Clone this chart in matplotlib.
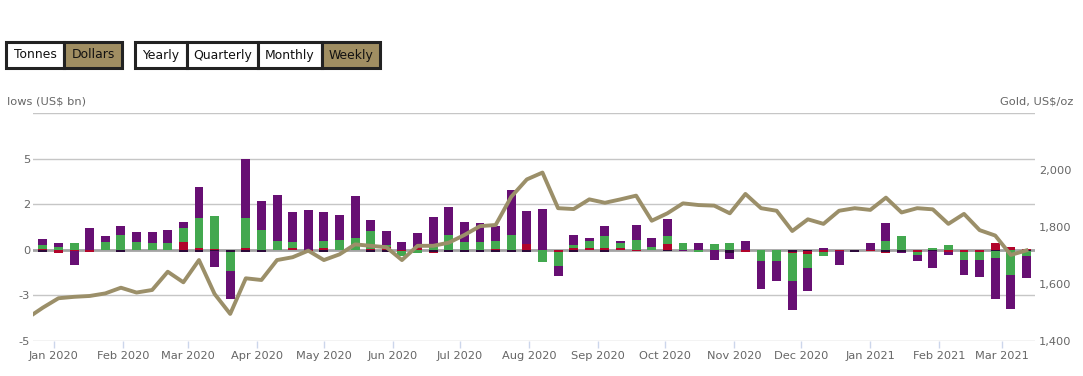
import matplotlib
matplotlib.use("Agg")
import matplotlib.pyplot as plt
import matplotlib.dates as mdates
from matplotlib.patches import Rectangle
from matplotlib.ticker import FixedLocator
import pandas as pd

W, H = 1083, 376

# weekly flows (US$ bn), weeks ending Friday
weeks = pd.date_range("2019-12-27", periods=64, freq="W-FRI")
north_america = [0.33, 0.2, -0.73, 1.2, 0.33, 0.49, 0.55, 0.6, 0.71, 0.33, 1.7, -0.88, -1.55, 3.24, 1.6, 2.53,
                 1.65, 2.2, 1.6, 1.37, 2.3, 0.6, 0.73, 0.44, 0.82, 1.6, 1.54, 1.1, 1.04, 0.82, 2.47, 1.8,
                 2.25, -0.55, 0.55, 0.16, 0.55, 0.11, 0.82, 0.49, 0.93, -0.05, 0.37, -0.55, -0.33, 0.49, -1.54, -1.1,
                 -1.6, -1.26, 0.08, -0.77, 0, 0.38, 0.99, -0.05, -0.33, -0.93, -0.18, -0.82, -0.93, -2.25, -1.86, -1.2]
europe = [0.22, 0.17, 0.38, 0, 0.44, 0.82, 0.44, 0.38, 0.38, 0.77, 1.65, 1.81, -1.05, 1.65, 1.1, 0.5,
          0.33, 0, 0.38, 0.55, 0.66, 0.99, 0.15, -0.27, -0.2, 0.2, 0.82, 0.44, 0.44, 0.44, 0.82, 0,
          -0.66, -0.77, 0.16, 0.38, 0.66, 0.27, 0.55, 0.16, 0.44, 0.4, -0.1, 0.3, 0.38, 0, -0.6, -0.6,
          -1.54, -0.77, -0.22, 0, 0, 0, 0.5, 0.77, -0.17, 0.12, 0.27, -0.44, -0.44, -0.4, -1.4, -0.3]
asia = [0.05, -0.18, -0.09, -0.1, 0, 0, 0, 0, 0, 0.44, 0.1, 0.04, 0, 0.1, 0, 0,
        0.1, -0.08, 0.1, 0, 0, 0.05, 0.13, -0.08, 0.08, -0.1, 0, 0, 0, 0.05, 0, 0.33,
        0, -0.1, 0.1, 0.08, 0.1, 0.08, -0.05, 0, 0.3, 0, 0, 0, -0.05, -0.1, 0, 0,
        -0.05, -0.16, -0.1, -0.05, 0, -0.08, -0.05, 0, -0.1, 0, -0.1, -0.1, -0.12, 0.4, 0.16, 0.05]
other = [-0.1, 0, 0, 0, 0, -0.1, 0, 0, 0, -0.1, -0.1, -0.05, -0.12, -0.1, -0.1, 0,
         0, 0, -0.1, 0, 0, -0.1, -0.1, 0, 0, -0.1, -0.1, -0.1, -0.1, -0.1, -0.1, -0.1,
         0, 0, -0.1, 0, -0.1, 0, 0, 0, -0.05, 0, 0, 0, -0.15, 0, 0, 0,
         -0.1, -0.05, 0, 0, -0.1, 0, -0.1, -0.1, 0, -0.06, 0, 0, 0, -0.05, 0, -0.05]

# gold price, one extra week before the first bar
gold_weeks = pd.date_range("2019-12-20", periods=65, freq="W-FRI")
gold = [1480, 1517, 1550, 1555, 1558, 1567, 1587, 1570, 1579, 1643, 1606, 1684, 1565, 1495, 1620, 1614,
        1684, 1694, 1717, 1684, 1704, 1739, 1734, 1729, 1684, 1734, 1734, 1745, 1772, 1803, 1807, 1906,
        1967, 1991, 1866, 1863, 1897, 1885, 1897, 1910, 1822, 1848, 1883, 1877, 1875, 1848, 1916, 1866,
        1857, 1786, 1827, 1811, 1857, 1866, 1860, 1903, 1851, 1866, 1862, 1811, 1846, 1789, 1770, 1702, 1718]

left_ticks = [5, 2.5, 0, -2.5, -5]
left_labels = ["5", "2", "0", "-3", "-5"]
right_ticks = [1400, 1600, 1800, 2000]
right_labels = ["1,400", "1,600", "1,800", "2,000"]

unit_buttons = ["Tonnes", "Dollars"]
period_buttons = ["Yearly", "Quarterly", "Monthly", "Weekly"]

colors = {"other": "#2b0a3a", "asia": "#b1042a", "europe": "#43a84f", "na": "#670f73"}
GOLD = "#9b8f69"
TXT = "#666666"
FONT = "DejaVu Sans"


def fx(px):
    return px / W


def fy(py):
    return 1 - py / H


fig = plt.figure(figsize=(W / 100, H / 100), dpi=100)
fig.patch.set_facecolor("white")

ax = fig.add_axes([fx(33), fy(341), fx(1035) - fx(33), fy(113) - fy(341)])
ax2 = ax.twinx()

x = mdates.date2num(weeks)
pos = [0.0] * len(x)
neg = [0.0] * len(x)
for key, series in [("other", other), ("asia", asia), ("europe", europe), ("na", north_america)]:
    bottoms = []
    heights = []
    for i, v in enumerate(series):
        if v >= 0:
            bottoms.append(pos[i])
            pos[i] += v
        else:
            bottoms.append(neg[i])
            neg[i] += v
        heights.append(v)
    ax.bar(x, heights, bottom=bottoms, width=4.0, color=colors[key], zorder=3, linewidth=0)

for g in [7.5, 5, 2.5, -2.5, -5]:
    ax.axhline(g, color="#c6c6c6", lw=1, zorder=1)
ax.axhline(0, color="#a3a3a3", lw=2, zorder=2)

ax.set_ylim(-5, 7.5)
ax.set_xlim(mdates.date2num(pd.Timestamp("2019-12-22 14:00")), mdates.date2num(pd.Timestamp("2021-03-15 20:00")))
ax.yaxis.set_major_locator(FixedLocator(left_ticks))
ax.set_yticklabels(left_labels)
ax.tick_params(axis="y", length=0, pad=2, labelsize=8.2, labelcolor=TXT)

month_ticks = pd.date_range("2020-01-01", "2021-03-01", freq="MS")
ax.set_xticks(mdates.date2num(month_ticks))
ax.set_xticklabels([d.strftime("%b %Y") for d in month_ticks])
ax.tick_params(axis="x", length=5, width=1, color="#ccd6eb", pad=2, labelsize=8.2, labelcolor=TXT)

for s in ax.spines.values():
    s.set_visible(False)

ax2.plot(mdates.date2num(gold_weeks), gold, color=GOLD, lw=2.8, zorder=5, solid_joinstyle="round")
ax2.set_ylim(1400, 2200)
ax2.set_xlim(ax.get_xlim())
ax2.yaxis.set_major_locator(FixedLocator(right_ticks))
ax2.set_yticklabels(right_labels)
ax2.tick_params(axis="y", length=0, pad=3, labelsize=8.2, labelcolor=TXT)
for s in ax2.spines.values():
    s.set_visible(False)

fig.text(fx(7), fy(101), "lows (US$ bn)", fontsize=8.2, color=TXT, va="center", ha="left", family=FONT)
fig.text(fx(1073), fy(101), "Gold, US$/oz", fontsize=8.2, color=TXT, va="center", ha="right", family=FONT)


def button_group(labels, edges, active):
    top, bottom = 42, 68
    for i, lab in enumerate(labels):
        x0, x1 = edges[i], edges[i + 1]
        face = "#a08e62" if lab == active else "white"
        fig.patches.append(Rectangle((fx(x0), fy(bottom)), fx(x1 - x0), fy(top) - fy(bottom),
                                     transform=fig.transFigure, facecolor=face, edgecolor="#222222",
                                     linewidth=2.2, zorder=1))
        fig.text(fx((x0 + x1) / 2), fy((top + bottom) / 2), lab, fontsize=8.9, color="#111111",
                 ha="center", va="center", family=FONT, zorder=2)


button_group(unit_buttons, [6, 64, 122], "Dollars")
button_group(period_buttons, [135, 187, 258, 322, 380], "Weekly")

fig.savefig("out.png", dpi=100, facecolor="white")
